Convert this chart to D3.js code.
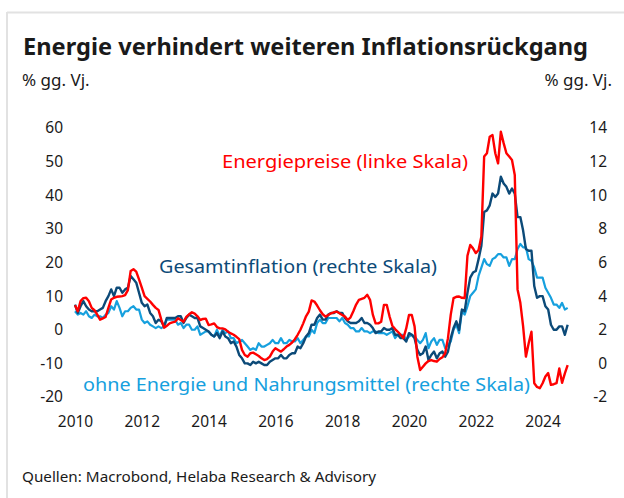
<!DOCTYPE html>
<html><head><meta charset="utf-8">
<script src="https://cdn.jsdelivr.net/npm/d3@7"></script>
<style>
html,body{margin:0;padding:0;background:#fff;}
svg{display:block;}
text{font-family:"Noto Sans",sans-serif;fill:#1a1a1a;}
</style></head>
<body>
<script>
// ---- data (monthly, Jan 2010 .. Oct 2024) ----
const startYear = 2010;
const xTicks = [2010, 2012, 2014, 2016, 2018, 2020, 2022, 2024];
const leftTicks = [60, 50, 40, 30, 20, 10, 0, -10, -20];
const rightTicks = [14, 12, 10, 8, 6, 4, 2, 0, -2];

const energy = [
  7.3, 5.5, 8.5, 9.4, 9.5, 8.5, 6.5, 5.8, 4.5, 3.0,
  3.4, 3.8, 6.5, 9.0, 9.5, 9.8, 9.9, 10.0, 10.3, 11.8,
  17.5, 18.0, 17.3, 15.0, 12.5, 10.0, 9.2, 8.4, 7.4, 6.5,
  5.9, 3.0, 0.6, 1.2, 1.9, 2.2, 2.4, 3.4, 2.9, 2.4,
  3.8, 4.6, 5.2, 4.8, 4.0, 2.9, 3.2, 3.3, 1.4, 1.6,
  1.9, 0.8, 0.4, 0.4, 0.1, -0.6, -1.1, -1.5, -2.1, -2.8,
  -6.0, -7.5, -8.0, -7.0, -6.8, -7.3, -7.8, -8.5, -9.0, -8.7,
  -8.0, -6.5, -5.5, -6.0, -6.5, -5.8, -5.0, -4.5, -3.8, -2.8,
  -1.5, 0.0, 1.9, 4.0, 5.4, 8.7, 8.4, 7.2, 5.8, 4.6,
  3.9, 4.4, 4.9, 5.2, 5.4, 4.9, 4.4, 3.9, 2.9, 3.7,
  5.5, 7.5, 8.9, 9.2, 9.5, 10.4, 8.9, 4.5, 1.9, 1.9,
  2.4, 7.4, 7.4, 4.0, 1.2, 0.2, -0.6, -1.5, -2.5, 0.4,
  4.4, 4.4, 1.0, -8.0, -12.0, -11.0, -10.0, -9.3, -9.0, -9.3,
  -9.5, -8.7, -8.2, -7.0, -2.5, 4.5, 9.4, 9.8, 9.9, 9.5,
  9.4, 22.0, 25.2, 24.2, 22.8, 23.7, 27.7, 51.5, 52.5, 57.4,
  57.9, 52.5, 49.5, 58.9, 55.5, 52.5, 51.5, 50.5, 46.0, 12.0,
  8.0, 1.0, -8.0, -4.0, -0.6, -15.9, -17.0, -17.4, -15.9, -13.9,
  -12.9, -16.4, -16.2, -15.9, -11.5, -15.8, -13.0, -10.5
];

const headline = [
  3.5, 3.0, 3.4, 3.7, 3.4, 3.2, 3.1, 3.1, 3.1, 3.2, 3.3, 3.7,
  4.0, 4.4, 4.0, 4.5, 4.5, 4.2, 4.4, 4.5, 5.2, 5.0, 4.8, 4.2,
  3.6, 3.4, 3.5, 3.0, 2.8, 2.4, 2.6, 2.5, 2.2, 2.7, 2.7, 2.7,
  2.7, 2.8, 2.8, 2.4, 2.7, 2.9, 2.8, 2.7, 2.7, 2.2, 2.1, 2.0,
  1.9, 1.7, 1.6, 1.8, 1.5, 1.9, 1.6, 1.5, 1.2, 1.3, 1.0, 0.5,
  0.3, 0.0, 0.0, -0.1, 0.1, 0.0, 0.1, 0.0, -0.1, -0.1, 0.1, 0.2,
  0.3, 0.3, 0.5, 0.3, 0.3, 0.5, 0.6, 0.6, 1.0, 0.9, 1.2, 1.6,
  1.8, 2.3, 2.3, 2.7, 2.9, 2.6, 2.6, 2.9, 3.0, 3.0, 3.1, 3.0,
  3.0, 2.7, 2.5, 2.4, 2.4, 2.4, 2.5, 2.7, 2.4, 2.4, 2.3, 2.1,
  1.8, 1.9, 1.9, 2.1, 2.0, 2.0, 2.1, 1.7, 1.7, 1.5, 1.5, 1.3,
  1.8, 1.7, 1.5, 0.8, 0.5, 0.6, 1.0, 0.2, 0.5, 0.7, 0.3, 0.6,
  0.7, 0.4, 0.7, 1.5, 2.1, 2.5, 2.0, 3.2, 3.1, 4.2, 5.1, 5.4,
  5.5, 6.2, 7.0, 9.0, 9.1, 9.4, 10.1, 9.9, 10.1, 11.1, 10.7, 10.5,
  10.1, 10.4, 10.1, 8.7, 8.7, 7.9, 6.8, 6.7, 6.7, 4.6, 3.9, 4.0,
  4.0, 3.4, 3.2, 2.3, 2.0, 2.0, 2.2, 2.2, 1.7, 2.3
];

const core = [
  3.1, 2.9, 3.0, 2.9, 3.1, 2.8, 2.7, 2.9, 2.8, 2.8, 2.7, 2.9,
  3.0, 3.4, 3.2, 3.7, 3.3, 2.8, 3.1, 3.1, 3.3, 3.4, 3.2, 3.2,
  2.6, 2.4, 2.5, 2.3, 2.2, 2.1, 2.2, 2.1, 2.2, 2.6, 2.6, 2.6,
  2.6, 2.3, 2.4, 2.1, 2.3, 2.3, 2.0, 2.0, 2.2, 1.7, 1.8, 1.9,
  1.9, 1.7, 1.6, 2.0, 1.6, 2.0, 1.8, 1.9, 1.5, 1.5, 1.2, 1.3,
  1.4, 1.2, 1.0, 0.8, 0.9, 0.8, 1.2, 1.0, 1.0, 1.1, 1.2, 1.4,
  1.2, 1.2, 1.5, 1.2, 1.2, 1.4, 1.3, 1.3, 1.5, 1.2, 1.4, 1.6,
  1.6, 2.0, 1.8, 2.4, 2.6, 2.4, 2.4, 2.7, 2.7, 2.7, 2.7, 2.5,
  2.7, 2.4, 2.3, 2.1, 2.1, 1.9, 1.9, 2.1, 1.9, 1.9, 1.8, 1.9,
  1.9, 1.8, 1.8, 1.8, 1.7, 1.8, 1.9, 1.5, 1.7, 1.7, 1.7, 1.4,
  1.6, 1.7, 1.6, 1.4, 1.2, 1.4, 1.8, 0.9, 1.3, 1.5, 1.1, 1.4,
  1.4, 0.9, 1.1, 1.3, 2.0, 2.3, 1.8, 3.1, 2.9, 3.4, 4.0, 4.2,
  4.4, 5.2, 5.7, 6.2, 5.9, 5.8, 6.2, 6.3, 6.5, 6.5, 6.3, 6.3,
  5.8, 6.2, 6.2, 6.8, 7.1, 6.9, 6.9, 6.2, 6.1, 5.7, 5.1, 5.1,
  5.1, 4.5, 4.2, 3.9, 3.5, 3.5, 3.3, 3.6, 3.2, 3.3
];

const title = "Energie verhindert weiteren Inflationsrückgang";
const unitLabel = "% gg. Vj.";
const source = "Quellen: Macrobond, Helaba Research & Advisory";
const labels = {
  energy: "Energiepreise (linke Skala)",
  headline: "Gesamtinflation (rechte Skala)",
  core: "ohne Energie und Nahrungsmittel (rechte Skala)"
};

// ---- layout ----
const W = 624, H = 498;
const C = { red: "#ff0000", dark: "#0c4a78", light: "#16a0de", frame: "#e2e2e2" };

const svg = d3.select("body").append("svg").attr("width", W).attr("height", H);

// frame
svg.append("line").attr("x1", 7).attr("x2", W).attr("y1", 12.5).attr("y2", 12.5)
  .attr("stroke", C.frame).attr("stroke-width", 2);
svg.append("line").attr("x1", 7).attr("x2", 7).attr("y1", 12).attr("y2", H)
  .attr("stroke", C.frame).attr("stroke-width", 2);

const x = d3.scaleLinear().domain([2010, 2024]).range([75, 542.6]);
const yL = d3.scaleLinear().domain([-20, 60]).range([397, 128]);
const yR = d3.scaleLinear().domain([-2, 14]).range([397, 128]);
const t = i => startYear + i / 12;
const fmt = d => String(d); // plain hyphen-minus, as in the reference

// title & units
svg.append("text").attr("x", 23).attr("y", 55).text(title)
  .attr("font-size", 23.5).attr("font-weight", 700)
  .attr("textLength", 565).attr("lengthAdjust", "spacingAndGlyphs");
svg.append("text").attr("x", 22).attr("y", 86).text(unitLabel).attr("font-size", 17);
svg.append("text").attr("x", 612).attr("y", 86).text(unitLabel).attr("font-size", 17)
  .attr("text-anchor", "end");

// axes
const axL = svg.append("g").attr("transform", "translate(63,0)")
  .call(d3.axisLeft(yL).tickValues(leftTicks).tickFormat(fmt).tickSize(0).tickPadding(0));
const axR = svg.append("g").attr("transform", "translate(607,0)")
  .call(d3.axisLeft(yR).tickValues(rightTicks).tickFormat(fmt).tickSize(0).tickPadding(0));
const axX = svg.append("g").attr("transform", "translate(0,413)")
  .call(d3.axisBottom(x).tickValues(xTicks).tickFormat(fmt).tickSize(0).tickPadding(0));
[axL, axR, axX].forEach(a => {
  a.select(".domain").remove();
  a.selectAll("text").attr("font-size", 15.5).attr("fill", "#1a1a1a")
    .style("font-family", '"Noto Sans", sans-serif');
});
axX.selectAll("text").attr("dy", "0.9em");

// lines
const lineR = d3.line().x((d, i) => x(t(i))).y(d => yR(d));
const lineL = d3.line().x((d, i) => x(t(i))).y(d => yL(d));
svg.append("path").datum(core).attr("d", lineR).attr("fill", "none")
  .attr("stroke", C.light).attr("stroke-width", 2.2).attr("stroke-linejoin", "round");
svg.append("path").datum(headline).attr("d", lineR).attr("fill", "none")
  .attr("stroke", C.dark).attr("stroke-width", 2.4).attr("stroke-linejoin", "round");
svg.append("path").datum(energy).attr("d", lineL).attr("fill", "none")
  .attr("stroke", C.red).attr("stroke-width", 2.4).attr("stroke-linejoin", "round");

// series labels
svg.append("text").attr("x", 222).attr("y", 168).text(labels.energy)
  .attr("font-size", 18.5).style("fill", C.red)
  .attr("textLength", 246).attr("lengthAdjust", "spacingAndGlyphs");
svg.append("text").attr("x", 159).attr("y", 273).text(labels.headline)
  .attr("font-size", 18.5).style("fill", C.dark)
  .attr("textLength", 278).attr("lengthAdjust", "spacingAndGlyphs");
svg.append("text").attr("x", 83).attr("y", 391).text(labels.core)
  .attr("font-size", 18.5).style("fill", C.light)
  .attr("textLength", 447).attr("lengthAdjust", "spacingAndGlyphs");

// source
svg.append("text").attr("x", 22).attr("y", 482).text(source)
  .attr("font-size", 15).attr("textLength", 354).attr("lengthAdjust", "spacingAndGlyphs");
</script>
</body></html>
